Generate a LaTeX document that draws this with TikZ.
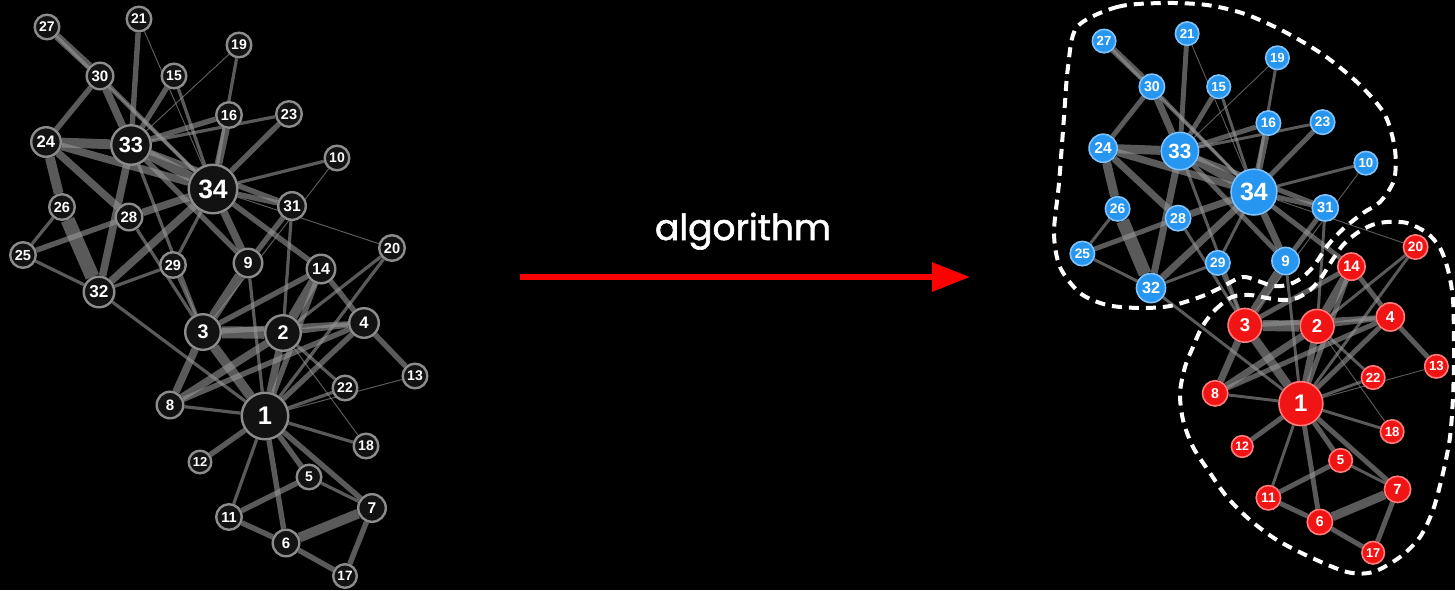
\documentclass[tikz,border=0pt]{standalone}
\usepackage{fontspec}
\usetikzlibrary{arrows.meta, backgrounds}
\newfontfamily\lblfont{Liberation Sans}
\newfontfamily\algfont{Poppins}[FakeBold=1.6]
\definecolor{nodeblue}{RGB}{38,150,240}
\definecolor{nodebluerim}{RGB}{130,195,250}
\definecolor{nodered}{RGB}{240,20,20}
\definecolor{noderedrim}{RGB}{255,125,125}
\definecolor{edgegray}{RGB}{150,150,150}

% member/x/y/diameter/community
\newcommand{\karatenodes}{
  1/265/416/49/r, 2/283/333/38/r, 3/203/332/38/r, 4/364/323/32/r,
  5/309/477/27/r, 6/286/543/29/r, 7/372/508/30/r, 8/170/405/29/r,
  9/248/263/31/b, 10/337/158/27/b, 11/229/517/28/r, 12/200/462/25/r,
  13/415/376/27/r, 14/321/269/31/r, 15/174/76/27/b, 16/229/115/28/b,
  17/345/576/26/r, 18/366/446/27/r, 19/239/45/27/b, 20/392/248/28/r,
  21/139/19/27/b, 22/345/388/27/r, 23/289/114/28/b, 24/46/142/32/b,
  25/23/255/28/b, 26/62/207/28/b, 27/47/27/27/b, 28/129/217/29/b,
  29/173/265/28/b, 30/100/76/29/b, 31/292/206/30/b, 32/99/292/33/b,
  33/131/145/42/b, 34/213/189/51/b}

% from/to/weight
\newcommand{\karateedges}{
  1/2/4, 1/3/5, 1/4/3, 1/5/3, 1/6/3, 1/7/3, 1/8/2, 1/9/2, 1/11/2, 1/12/3,
  1/13/1, 1/14/3, 1/18/2, 1/20/2, 1/22/2, 1/32/2,
  2/3/6, 2/4/3, 2/8/4, 2/14/5, 2/18/1, 2/20/2, 2/22/2, 2/31/2,
  3/4/3, 3/8/4, 3/9/5, 3/10/1, 3/14/3, 3/28/2, 3/29/2, 3/33/2,
  4/8/3, 4/13/3, 4/14/3, 5/7/2, 5/11/3, 6/7/5, 6/11/3, 6/17/3, 7/17/3,
  9/31/3, 9/33/3, 9/34/4, 10/34/2, 14/34/3, 15/33/3, 15/34/2,
  16/33/3, 16/34/4, 19/33/1, 19/34/2, 20/34/1, 21/33/3, 21/34/1,
  23/33/2, 23/34/3, 24/26/5, 24/28/4, 24/30/3, 24/33/5, 24/34/4,
  25/26/2, 25/28/3, 25/32/2, 26/32/7, 27/30/4, 27/34/2, 28/34/4,
  29/32/2, 29/34/2, 30/33/4, 30/34/2, 31/33/3, 31/34/3,
  32/33/4, 32/34/4, 33/34/5}

\begin{document}
\begin{tikzpicture}[
        x=1pt, y=-1pt,
        member/.style={circle, inner sep=0pt, text=white},
        L-b/.style={member, fill=black!93, draw=black!45, line width=2.4pt},
        L-r/.style={L-b},
        R-b/.style={member, fill=nodeblue, draw=nodebluerim, line width=1.6pt},
        R-r/.style={member, fill=nodered, draw=noderedrim, line width=1.6pt},
        tie/.style={edgegray, opacity=0.6},
        hull/.style={white, line width=4pt, dash pattern=on 10pt off 7pt}
    ]
        \useasboundingbox (0,0) rectangle (1455,590);

        % Input graph
        \foreach \n/\px/\py/\d/\c in \karatenodes {
            \pgfmathsetmacro{\ds}{\d-2.4}
            \pgfmathsetmacro{\fs}{0.52*\d}
            \node[L-\c, minimum size=\ds pt, font=\lblfont\bfseries\fontsize{\fs pt}{\fs pt}\selectfont] (L\n) at (\px,\py) {\n};
        }

        % Algorithm arrow
        \node[text=white, anchor=base, font=\algfont\fontsize{36pt}{40pt}\selectfont] (algo) at (743,240) {algorithm};
        \coordinate (arrS) at (520,277);
        \coordinate (arrE) at (970,277);
        \draw[red, line width=6pt, -{Triangle[length=38pt,width=28pt]}] (arrS) -- (arrE);

        % Communities
        \draw[hull] plot[smooth cycle] coordinates {
            (1077,27) (1117,7) (1163,3) (1207,5) (1245,14) (1285,32) (1325,56)
            (1360,85) (1385,115) (1395,150) (1394,180) (1380,202) (1363,213)
            (1343,229) (1328,245) (1313,267) (1300,279) (1287,285) (1273,286)
            (1258,281) (1242,277) (1220,288) (1200,297) (1170,306) (1140,308)
            (1107,305) (1080,293) (1060,267) (1054,233) (1059,183) (1064,117)
            (1068,67)};
        \draw[hull] plot[smooth cycle] coordinates {
            (1202,327) (1215,310) (1232,297) (1250,295) (1267,298) (1283,300)
            (1297,298) (1310,290) (1321,278) (1331,262) (1343,245) (1357,233)
            (1372,225) (1387,222) (1407,223) (1427,233) (1440,248) (1448,270)
            (1453,300) (1454,353) (1453,397) (1450,437) (1443,473) (1433,510)
            (1420,537) (1400,557) (1373,572) (1347,572) (1310,557) (1277,540)
            (1250,520) (1227,497) (1210,473) (1193,447) (1183,420) (1180,393)
            (1185,367) (1193,347)};

        % Output graph
        \begin{scope}[shift={(1061.6,15.9)}, xscale=0.903, yscale=0.932]
            \foreach \n/\px/\py/\d/\c in \karatenodes {
                \pgfmathsetmacro{\ds}{0.93*\d-1.6}
                \pgfmathsetmacro{\fs}{0.49*\d}
                \node[R-\c, minimum size=\ds pt, font=\lblfont\bfseries\fontsize{\fs pt}{\fs pt}\selectfont] (R\n) at (\px,\py) {\n};
            }
        \end{scope}

        % Edges
        \begin{scope}[on background layer]
            \fill[black] (0,0) rectangle (1455,590);
            \foreach \a/\b/\w in \karateedges {
                \pgfmathsetmacro{\lw}{max(1,2.2*\w-1.2)}
                \draw[tie, line width=\lw pt] (L\a) -- (L\b);
                \draw[tie, line width=0.92*\lw pt] (R\a) -- (R\b);
            }
        \end{scope}

\end{tikzpicture}
\end{document}
